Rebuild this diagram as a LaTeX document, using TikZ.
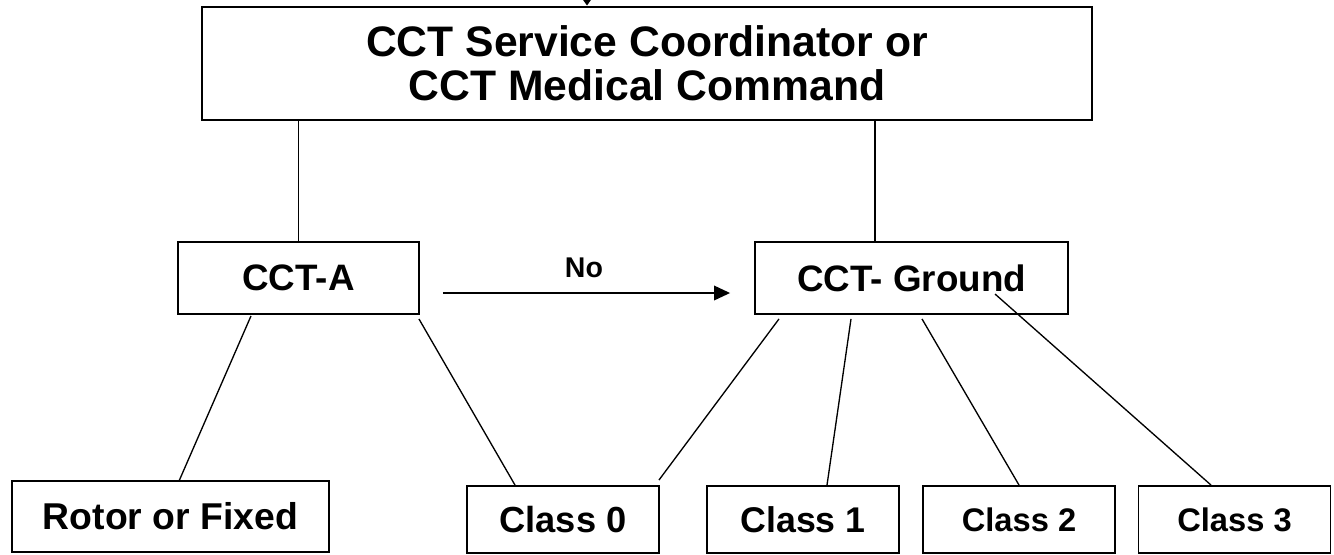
\documentclass[tikz,border=0pt]{standalone}
\usepackage{fontspec}
\setmainfont{Liberation Sans}
\usetikzlibrary{arrows.meta,calc}

\begin{document}
\begin{tikzpicture}[x=0.75pt,y=0.75pt,yscale=-1,xscale=1,
  box/.style={draw,line width=1.4pt,inner sep=0pt,align=center},
  midbox/.style={box,minimum height=54pt,font=\fontsize{27.6}{30}\selectfont\bfseries},
  lowbox/.style={box,minimum width=144pt,minimum height=50.25pt,font=\fontsize{27.2}{30}\selectfont\bfseries},
  smallbox/.style={lowbox,font=\fontsize{24.5}{28}\selectfont\bfseries},
  link/.style={line width=1pt}]
\useasboundingbox (0,0) rectangle (1334,554);
\node (top) at (647,63.5) [box,line width=2.2pt,minimum width=667.5pt,minimum height=84.75pt,font=\fontsize{32}{33}\selectfont\bfseries] {CCT Service Coordinator or\\CCT Medical Command};
\node (cctA) at (298.5,278) [midbox,minimum width=180.75pt] {CCT-A};
\node (ground) at (911.5,278) [midbox,minimum width=234.75pt] {CCT- Ground};
\node (rotor) at (170.5,516.5) [lowbox,minimum width=237.75pt,minimum height=53.25pt,font=\fontsize{28}{30}\selectfont\bfseries] {Rotor or Fixed};
\node (c0) at (563,519.5) [lowbox] {Class 0};
\node (c1) at (803,519.5) [lowbox,font=\fontsize{26.8}{30}\selectfont\bfseries] {Class 1};
\node (c2) at (1019,519.5) [smallbox] {Class 2};
\node (c3) at (1234.5,519.5) [smallbox] {Class 3};
\node (no) at (584,267.5) [inner sep=0pt,font=\fontsize{21.4}{24}\selectfont\bfseries] {No};
\coordinate (entry) at (587,0);
\draw [link,-{Triangle[length=5.5pt,width=7.5pt]}] (entry) -- (entry |- top.north);
\draw [link] (cctA.north |- top.south) -- (cctA.north);
\coordinate (gtop) at ($(ground.north)+(-36.5,0)$);
\draw [link] (gtop |- top.south) -- (gtop);
\draw [link,-{Triangle[length=12pt,width=11pt]}] ($(cctA.east)+(23,15)$) -- ($(ground.west)+(-24,15)$);
\draw [link] ($(cctA.south)+(-47.5,1)$) -- ($(rotor.north)+(8.5,1)$);
\draw [link] ($(cctA.south east)+(-1,4)$) -- ($(c0.north)+(-48,0)$);
\draw [link] ($(ground.south)+(-132.5,4)$) -- ($(c0.north east)+(-1,-5)$);
\draw [link] ($(ground.south)+(-60.5,4)$) -- ($(c1.north)+(24,0)$);
\draw [link] ($(ground.south)+(10.5,4)$) -- (c2.north);
\draw [link] ($(ground.center)+(83.5,16)$) -- ($(c3.north)+(-23.5,0)$);
\end{tikzpicture}
\end{document}
